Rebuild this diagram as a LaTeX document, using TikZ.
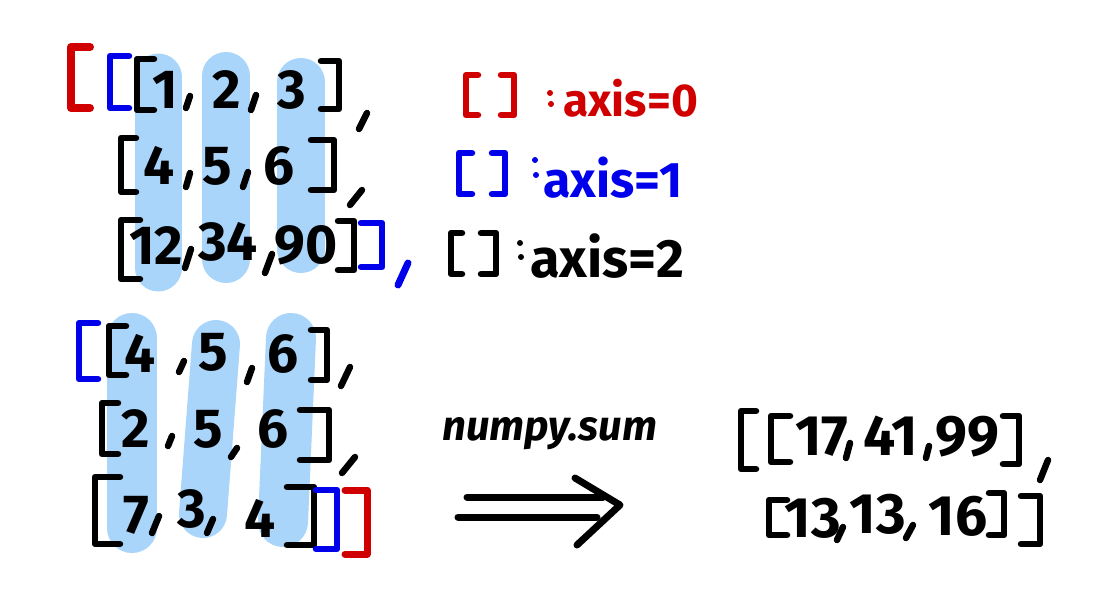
\documentclass[tikz,border=0pt]{standalone}
\usepackage{fontspec}
\setmainfont{Fira Sans}
\definecolor{pill}{RGB}{170,213,250}
\definecolor{hred}{RGB}{208,0,0}
\definecolor{hblue}{RGB}{0,0,235}
\tikzset{
  dg/.style={font=\fontsize{55}{55}\selectfont\bfseries, inner sep=0pt, anchor=base},
  dgr/.style={dg, font=\fontsize{57}{57}\selectfont\bfseries},
  lbl/.style={inner sep=0pt, anchor=base west},
  brstroke/.style={line width=6.5pt, line cap=round, line join=round},
  commastroke/.style={line width=6.5pt, line cap=round},
  pillstroke/.style={line width=#1, line cap=round, draw=pill},
}
\newcommand\brk[5][black]{\draw[brstroke,#1] (#3,#4) -- (#2,#4) -- (#2,#5) -- (#3,#5);}
\newcommand\cma[5][black]{\draw[commastroke,#1] (#2,#3) -- (#4,#5);}
\begin{document}
\begin{tikzpicture}[x=1pt,y=-1pt]
\useasboundingbox (0,0) rectangle (1093,602);
\fill[white] (0,0) rectangle (1093,602);
% pills
\draw[pillstroke=47pt] (158,77) -- (158,268);
\draw[pillstroke=48pt] (226,76) -- (226,259);
\draw[pillstroke=48pt] (301,82) -- (301,249);
\draw[pillstroke=50pt] (132,338) -- (132,528);
\draw[pillstroke=48pt] (216,344) -- (203,514);
\draw[pillstroke=50pt] (291,338) -- (283,522);
% ---------- top block
\brk[hred,line width=8pt]{71}{90}{47}{108}
\brk[hblue]{110}{129}{56}{108}
\brk{137}{154}{59}{110}
\node[dg] (t11) at (165,108) {1};
\node[dg] (t12) at (227,108) {2};
\node[dg] (t13) at (292,108) {3};
\cma{190}{96}{186}{108}
\cma{256}{95}{251}{110}
\brk{339}{321}{61}{109}
\cma{367}{113}{359}{129}
\brk{121}{136}{138}{192}
\node[dg] (t21) at (159,184) {4};
\node[dg] (t22) at (217,184) {5};
\node[dg] (t23) at (279,184) {6};
\cma{190}{173}{186}{187}
\cma{248}{172}{243}{187}
\brk{334}{311}{140}{190}
\cma{362}{190}{350}{205}
\brk{121}{140}{220}{279}
\node[dg] (t31) at (156,264) {12};
\node[dg] (t32) at (228,260) {34};
\node[dg] (t33) at (306,263) {90};
\cma{191}{249}{185}{268}
\cma{272}{254}{265}{273}
\brk{354}{338}{221}{270}
\brk[hblue]{382}{361}{223}{267}
\cma[hblue,line width=7pt]{408}{263}{398}{285}
% ---------- legend
\brk[hred]{466}{478}{75}{115}
\brk[hred]{514}{501}{75}{115}
\fill[hred] (550,93) circle (3) (551,104) circle (3);
\node[lbl, text=hred, font=\fontsize{46}{46}\selectfont\bfseries] (ax0) at (563,117) {axis=0};
\brk[hblue]{459}{472}{153}{194}
\brk[hblue]{505}{492}{153}{194}
\fill[hblue] (535,160) circle (3) (536,175) circle (3);
\node[lbl, text=hblue, font=\fontsize{50}{50}\selectfont\bfseries] (ax1) at (543,197) {axis=1};
\brk{451}{462}{233}{274}
\brk{496}{481}{233}{274}
\fill (520,243) circle (3) (521,257) circle (3);
\node[lbl, font=\fontsize{54}{54}\selectfont\bfseries] (ax2) at (530,277) {axis=2};
% ---------- bottom block
\brk[hblue]{79}{98}{323}{379}
\brk{109}{126}{326}{375}
\node[dg] (b11) at (140,372) {4};
\node[dg] (b12) at (213,370) {5};
\node[dg] (b13) at (283,372) {6};
\cma{184}{361}{179}{372}
\cma{252}{368}{247}{382}
\brk{327}{311}{330}{380}
\cma{350}{367}{341}{386}
\brk{102}{118}{403}{454}
\node[dg] (b21) at (136,447) {2};
\node[dg] (b22) at (208,447) {5};
\node[dg] (b23) at (273,447) {6};
\cma{172}{436}{168}{446}
\cma{237}{448}{231}{457}
\brk{329}{300}{410}{460}
\cma{355}{457}{342}{473}
\brk{95}{120}{477}{544}
\node[dg] (b31) at (136,533) {7};
\node[dg] (b32) at (192,527) {3};
\node[dg] (b33) at (260,537) {4};
\cma{159}{516}{152}{533}
\cma{213}{519}{207}{533}
\brk{314}{287}{487}{545}
\brk[hblue]{337}{316}{490}{549}
\brk[hred,line width=7pt]{367}{345}{490}{554}
% ---------- arrow and label
\node[lbl, font=\fontsize{42}{42}\selectfont\bfseries\itshape] (np) at (442,440) {numpy.sum};
\draw[line width=7pt, line cap=round] (467,497) -- (603,497);
\draw[line width=7pt, line cap=round] (458,517) -- (597,517);
\draw[line width=7pt, line cap=round, line join=round] (575,478) -- (620,505) -- (577,545);
% ---------- result
\brk{741}{756}{411}{469}
\brk{771}{790}{416}{462}
\node[dgr] (r11) at (822,455) {17};
\node[dgr] (r12) at (891,455) {41};
\node[dgr] (r13) at (967,455) {99};
\cma{850}{443}{846}{458}
\cma{929}{446}{926}{458}
\brk{1019}{1003}{416}{464}
\cma{1048}{460}{1040}{480}
\brk{769}{787}{500}{535}
\node[dgr] (r21) at (813,537) {13};
\node[dgr] (r22) at (878,533) {13};
\node[dgr] (r23) at (958,535) {16};
\cma{843}{527}{837}{540}
\cma{913}{525}{906}{538}
\brk{1004}{989}{493}{535}
\brk{1040}{1021}{496}{544}
\end{tikzpicture}
\end{document}
